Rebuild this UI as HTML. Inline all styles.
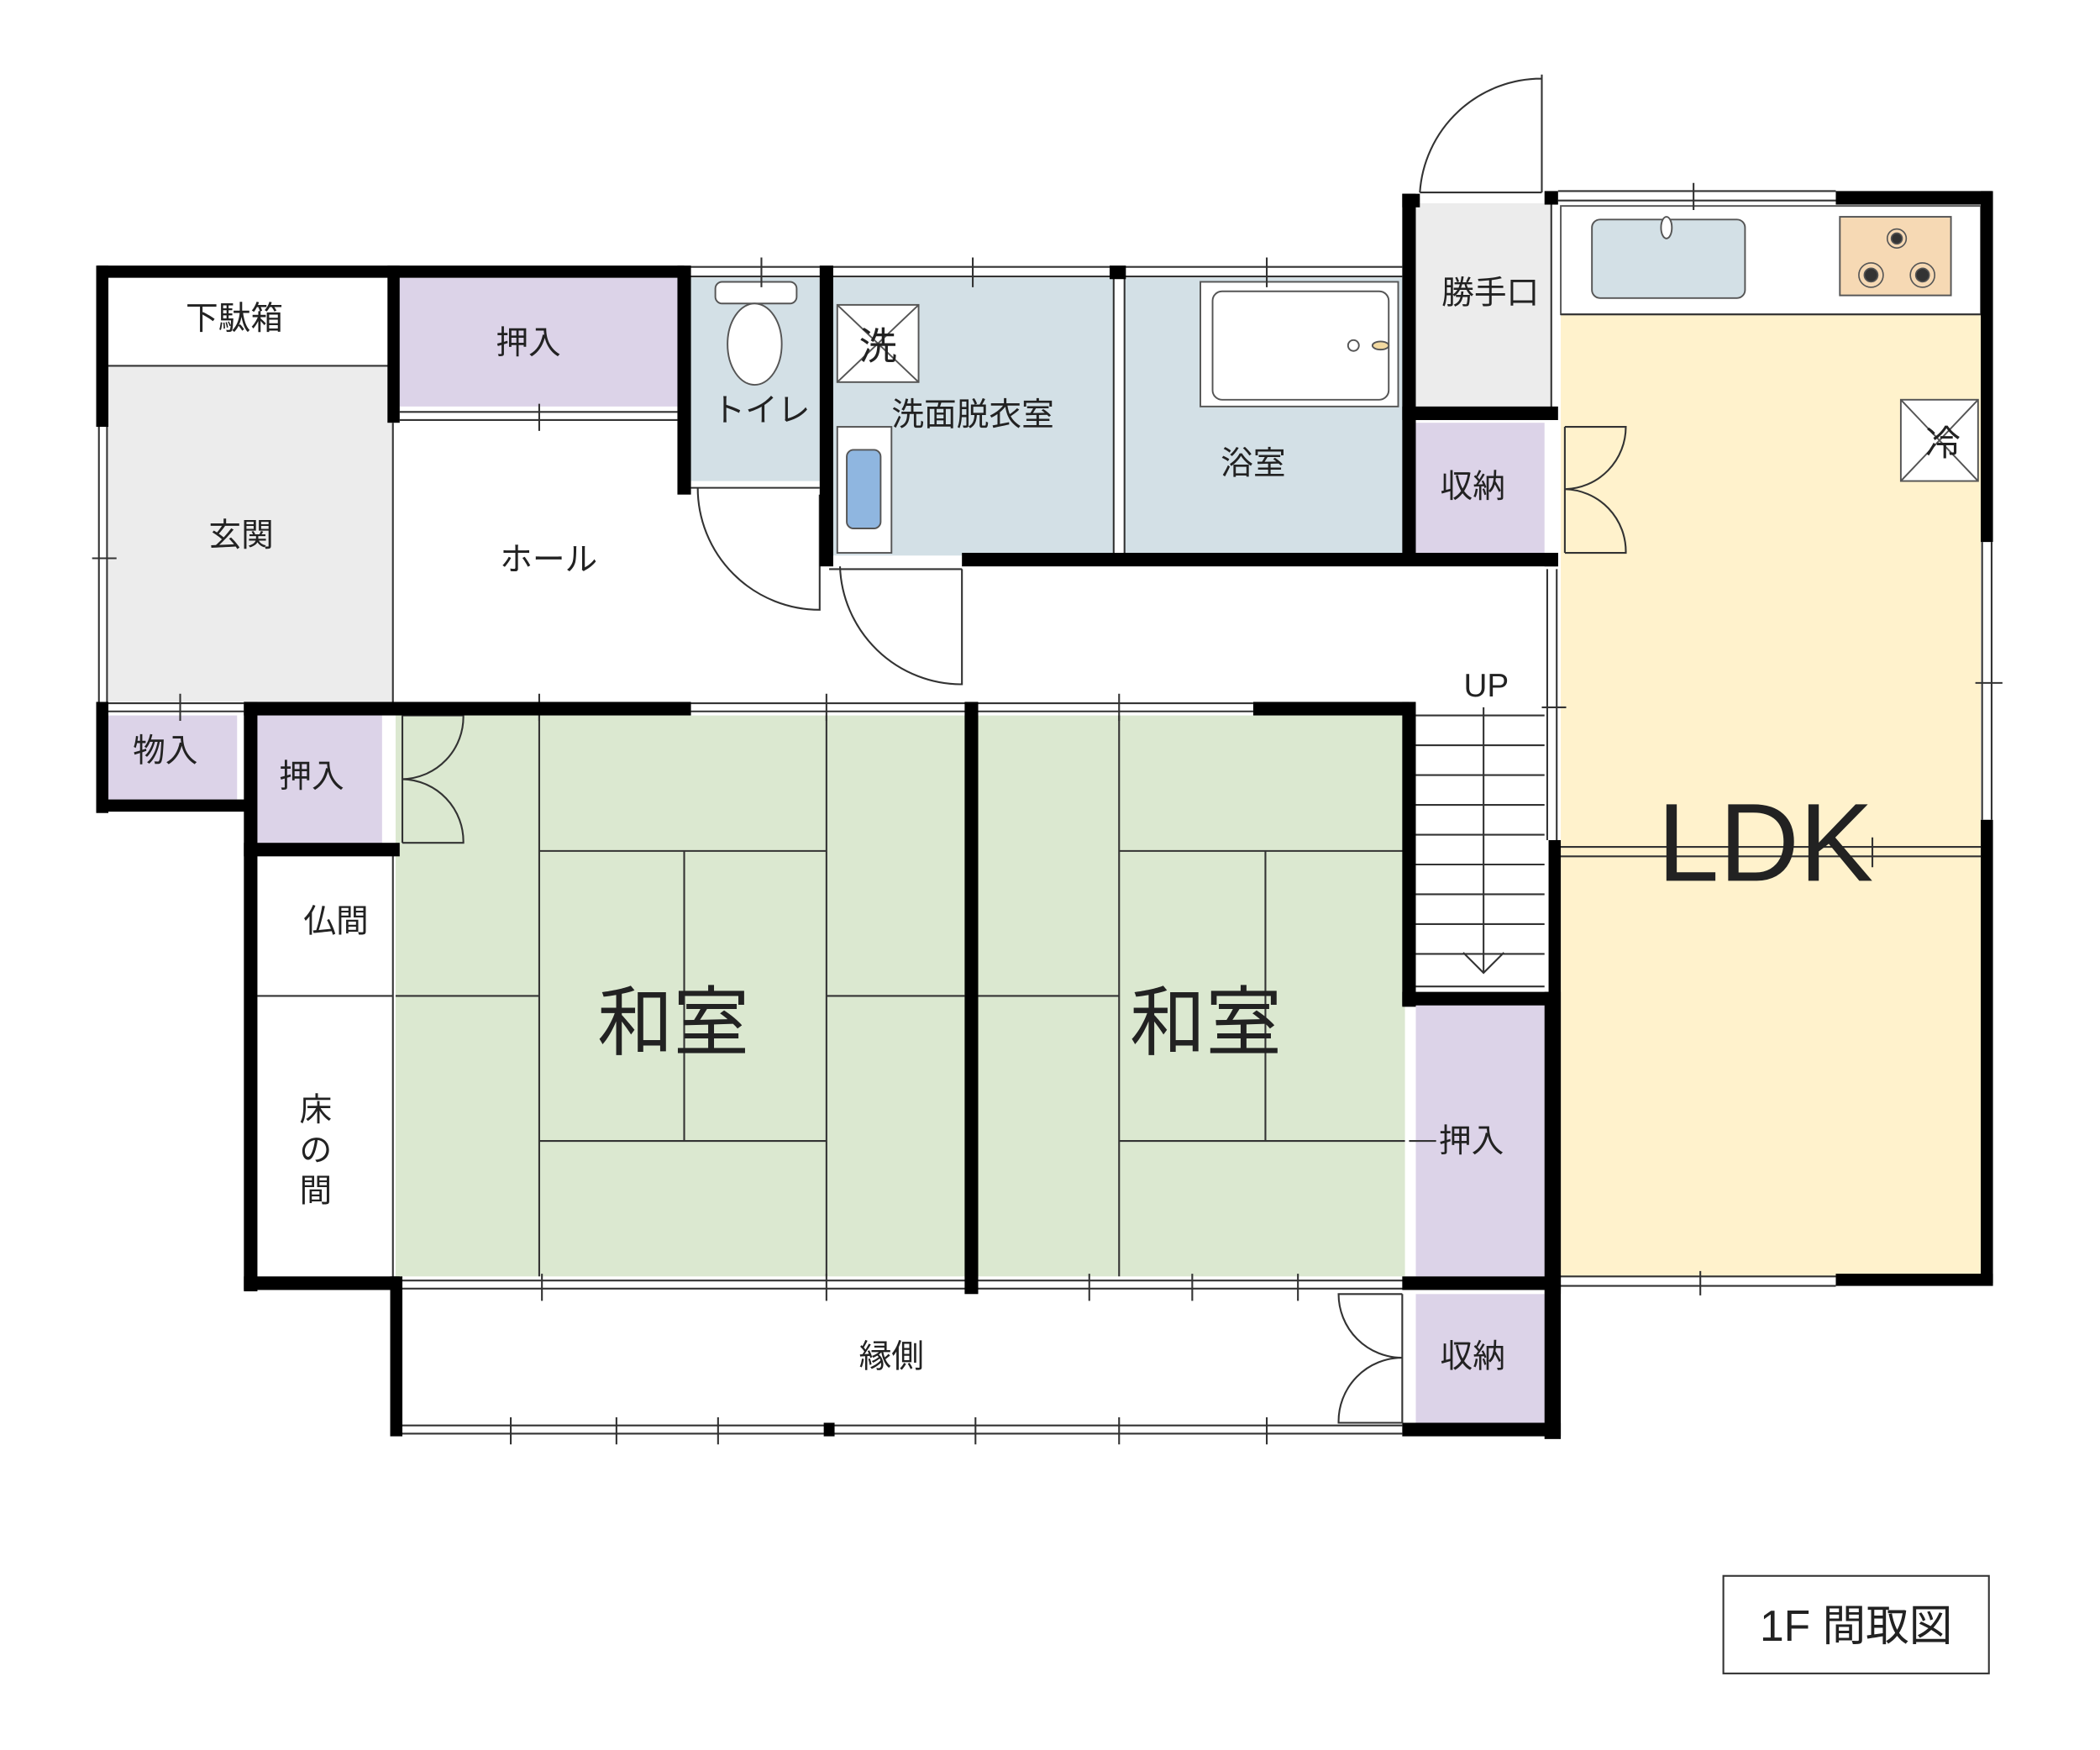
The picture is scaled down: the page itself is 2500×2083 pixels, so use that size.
<!DOCTYPE html>
<html><head><meta charset="utf-8"><style>
html,body{margin:0;padding:0;background:#fff}
svg{display:block}
text{font-family:"Liberation Sans","Noto Sans CJK JP",sans-serif;fill:#222}
</style></head><body>
<svg width="2500" height="2083" viewBox="0 0 1550 1291.5" preserveAspectRatio="none" xmlns="http://www.w3.org/2000/svg">
<g stroke="none">
<rect x="80" y="205" width="208" height="65" fill="#fff"/>
<rect x="80" y="270" width="210" height="248" fill="#ececec"/>
<rect x="295" y="205" width="205" height="95" fill="#dcd3e8"/>
<rect x="510" y="205" width="95" height="150" fill="#d3e0e6"/>
<rect x="615" y="205" width="207" height="205" fill="#d3e0e6"/>
<rect x="830" y="205" width="205" height="205" fill="#d3e0e6"/>
<rect x="1045" y="150" width="100" height="152" fill="#ececec"/>
<rect x="1045" y="312" width="95" height="96" fill="#dcd3e8"/>
<rect x="1152" y="232" width="310" height="710" fill="#fff2cc"/>
<rect x="80" y="528" width="95" height="62" fill="#dcd3e8"/>
<rect x="190" y="528" width="92" height="94" fill="#dcd3e8"/>
<rect x="292" y="528" width="422" height="414" fill="#dbe8d0"/>
<rect x="722" y="528" width="315" height="414" fill="#dbe8d0"/>
<rect x="1045" y="742" width="95" height="200" fill="#dcd3e8"/>
<rect x="1045" y="955" width="95" height="95" fill="#dcd3e8"/>
</g>
<!-- fixtures -->
<g stroke="#555" stroke-width="1.2">
<rect x="618" y="225" width="60" height="57" fill="#fff"/>
<path d="M618 225L678 282M678 225L618 282" fill="none"/>
<rect x="618" y="315" width="40" height="93" fill="#fff"/>
<rect x="625" y="332" width="25" height="58" rx="5" fill="#8fb6e0"/>
<rect x="528" y="208" width="60" height="16" rx="5" fill="#fff"/>
<ellipse cx="557" cy="254" rx="20" ry="30" fill="#fff"/>
<rect x="886" y="208" width="146" height="92" fill="#fff"/>
<rect x="895" y="215" width="130" height="80" rx="7" fill="#fff"/>
<circle cx="999" cy="255" r="4" fill="#fff"/>
<ellipse cx="1019" cy="255" rx="6" ry="3" fill="#f2d9a0"/>
<rect x="1152" y="152" width="310" height="80" fill="#fff"/>
<rect x="1175" y="162" width="113" height="58" rx="6" fill="#d3e0e6"/>
<ellipse cx="1230" cy="168" rx="4" ry="8" fill="#fff"/>
<rect x="1358" y="160" width="82" height="58" fill="#f6d9b4"/>
<rect x="1403" y="295" width="57" height="60" fill="#fff"/>
<path d="M1403 295L1460 355M1460 295L1403 355" fill="none"/>
</g>
<g fill="#333" stroke="#555" stroke-width="1">
<circle cx="1400" cy="176" r="7" fill="none"/><circle cx="1400" cy="176" r="4"/>
<circle cx="1381" cy="203" r="9" fill="none"/><circle cx="1381" cy="203" r="5"/>
<circle cx="1419" cy="203" r="9" fill="none"/><circle cx="1419" cy="203" r="5"/>
</g>
<!-- thin lines -->
<g stroke="#333" stroke-width="1.3" fill="none">
<path d="M80 270H288M290 312V518M190 735H290M290 628V945"/>
<path d="M398 528V942M610 528V942M398 628H610M398 842H610M505 628V842M292 735H398M610 735H712"/>
<path d="M826 528V942M934 628V842M826 628H1037M826 842H1037M722 735H826"/>
<path d="M1145 150V302M1152 232H1462"/>
<!-- double windows -->
<path d="M505 197H1035M505 204H1035M295 304H500M295 310H500M73 315V520M79 315V520M80 519H180M80 525H180"/>
<path d="M510 519H715M510 525H715M720 519H925M720 525H925M1150 141H1355M1150 148H1355M1463 400V605M1470 400V605"/>
<path d="M1142 420V620M1149 420V620M1150 625H1462M1150 632H1462M1150 942H1355M1150 949H1355"/>
<path d="M295 945H1040M295 951H1040M295 1052H1035M295 1058H1035M822 205V410M830 205V410"/>
<path d="M510 360H605M612 420H710M1048 142H1138"/>
<!-- ticks -->
<path d="M562 190V212M718 190V212M935 190V212M398 298V318M68 412H86M133 512V532M398 512V532M610 512V532M826 512V532M1250 135V155M1458 504H1478M1138 522H1156M1382 618V640M1255 938V956M400 940V960M610 940V960M804 940V960M880 940V960M958 940V960M377 1046V1066M455 1046V1066M530 1046V1066M720 1046V1066M826 1046V1066M935 1046V1066M1040 842H1060"/>
<!-- doors -->
<path d="M605 365V450A90 90 0 0 1 515 360"/>
<path d="M710 420V505A90 90 0 0 1 620 418"/>
<path d="M1138 55V142M1138 58A90 90 0 0 0 1048 142"/>
<path d="M1155 315V408M1155 315H1200A46 46 0 0 1 1155 361A46 46 0 0 1 1200 408H1155"/>
<path d="M297 528V622M297 528H342A46 46 0 0 1 297 575A46 46 0 0 1 342 622H297"/>
<path d="M1035 955V1050M1035 955H988A47 47 0 0 0 1035 1002A47 47 0 0 0 988 1050H1035"/>
<!-- stairs -->
<path d="M1045 528H1140M1045 550H1140M1045 572H1140M1045 594H1140M1045 616H1140M1045 638H1140M1045 660H1140M1045 682H1140M1045 704H1140M1045 728H1140"/>
<path d="M1095 522V718M1080 703L1095 718L1110 703"/>
<rect x="1272" y="1163" width="196" height="72"/>
</g>
<!-- thick walls -->
<g fill="#000">
<rect x="72" y="196" width="433" height="9"/>
<rect x="71" y="196" width="9" height="119"/>
<rect x="286" y="196" width="9" height="116"/>
<rect x="500" y="196" width="10" height="169"/>
<rect x="605" y="196" width="10" height="222"/>
<rect x="819" y="196" width="12" height="10"/>
<rect x="1035" y="143" width="10" height="270"/>
<rect x="1035" y="143" width="13" height="10"/>
<rect x="1140" y="141" width="10" height="10"/>
<rect x="1355" y="141" width="115" height="10"/>
<rect x="1462" y="141" width="9" height="259"/>
<rect x="1462" y="605" width="9" height="342"/>
<rect x="1355" y="940" width="116" height="9"/>
<rect x="1035" y="300" width="115" height="10"/>
<rect x="710" y="408" width="440" height="10"/>
<rect x="1140" y="408" width="10" height="10"/>
<rect x="1143" y="620" width="9" height="335"/>
<rect x="71" y="518" width="9" height="82"/>
<rect x="71" y="590" width="112" height="9"/>
<rect x="180" y="518" width="330" height="10"/>
<rect x="180" y="518" width="10" height="435"/>
<rect x="180" y="622" width="115" height="10"/>
<rect x="712" y="518" width="10" height="437"/>
<rect x="925" y="518" width="115" height="10"/>
<rect x="1035" y="518" width="10" height="225"/>
<rect x="1035" y="732" width="115" height="10"/>
<rect x="180" y="942" width="115" height="10"/>
<rect x="288" y="942" width="9" height="118"/>
<rect x="1035" y="942" width="117" height="10"/>
<rect x="1140" y="732" width="12" height="330"/>
<rect x="1035" y="1050" width="117" height="10"/>
<rect x="608" y="1050" width="8" height="10"/>
</g>
<!-- labels -->
<g font-size="24" text-anchor="middle">
<text x="173" y="243">下駄箱</text>
<text x="390" y="261">押入</text>
<text x="562" y="311">トイレ</text>
<text x="718" y="314">洗面脱衣室</text>
<text x="925" y="350">浴室</text>
<text x="1100" y="224">勝手口</text>
<text x="1087" y="367">収納</text>
<text x="178" y="403">玄関</text>
<text x="405" y="421">ホール</text>
<text x="1097" y="514">UP</text>
<text x="122" y="562">物入</text>
<text x="230" y="581">押入</text>
<text x="248" y="688">仏間</text>
<text x="233" y="827">床</text>
<text x="233" y="857">の</text>
<text x="233" y="887">間</text>
<text x="1086" y="850">押入</text>
<text x="658" y="1009">縁側</text>
<text x="1087" y="1009">収納</text>
<text x="648" y="265" font-size="28">洗</text>
<text x="1434" y="336" font-size="26">冷</text>
<text x="497" y="774" font-size="56">和室</text>
<text x="890" y="774" font-size="56">和室</text>
<text x="1303" y="650" font-size="82">LDK</text>
<text x="1370" y="1211" font-size="32">1F 間取図</text>
<text x="28" y="1302" font-size="8" fill="#666">らくすむ</text>
</g>
</svg>
</body></html>
